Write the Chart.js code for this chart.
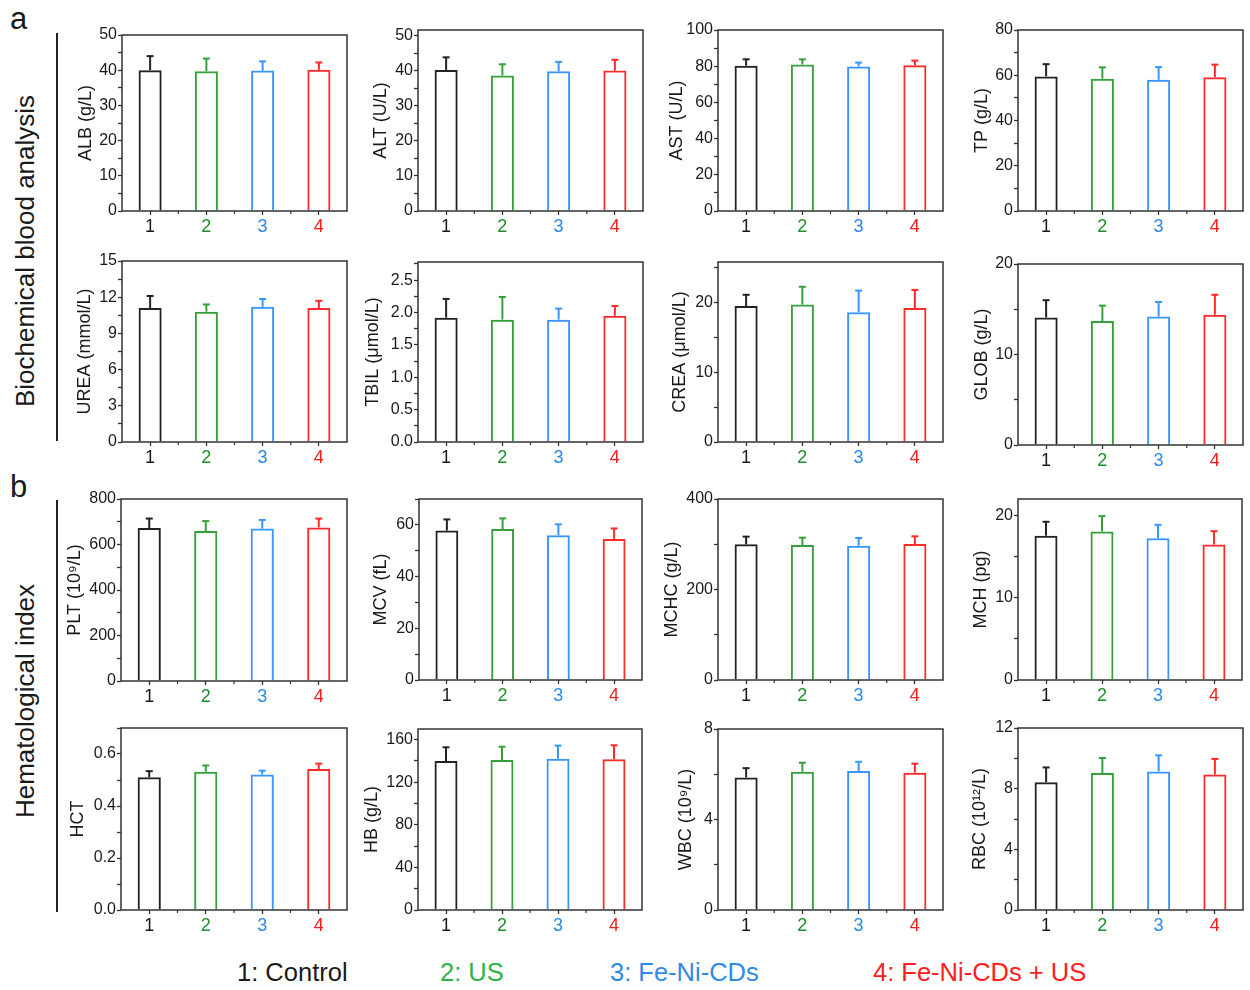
<!DOCTYPE html>
<html>
<head>
<meta charset="utf-8">
<title>Biochemical blood analysis and hematological index</title>
<script src="https://cdn.jsdelivr.net/npm/chart.js@4.4.1/dist/chart.umd.min.js"></script>
<style>
  html, body { margin: 0; padding: 0; background: #fff; }
  body { width: 1250px; height: 990px; position: relative; overflow: hidden;
         font-family: "Liberation Sans", Arial, sans-serif; color: #1a1a1a; }
  .panel { position: absolute; }
  .tag { position: absolute; font-size: 31px; line-height: 1; }
  .section { position: absolute; font-size: 26px; white-space: nowrap;
             transform: translate(-50%, -50%) rotate(-90deg); }
  .rule { position: absolute; left: 56px; width: 2px; background: #222; }
  #legend span { position: absolute; font-size: 25.5px; white-space: nowrap; transform: translateY(-50%); }
</style>
</head>
<body>
<div class="tag" style="left:10px; top:3px;">a</div>
<div class="tag" style="left:10px; top:471px;">b</div>
<div class="rule" style="top:33px; height:408px;"></div>
<div class="rule" style="top:500px; height:412px;"></div>
<div class="section" style="left:25px; top:251px;">Biochemical blood analysis</div>
<div class="section" style="left:25px; top:701px;">Hematological index</div>
<div id="legend"></div>

<script>
// Groups
const groups = ['1', '2', '3', '4'];
const groupNames = ['Control', 'US', 'Fe-Ni-CDs', 'Fe-Ni-CDs + US'];
const barColors = ['#222222', '#36a03c', '#3a96ff', '#ff2a2a'];
const labelColors = ['#1a1a1a', '#1f8f2a', '#2a88f0', '#f51c1c'];
const legendColors = ['#1a1a1a', '#2db34a', '#2f8ae8', '#ff2020'];

// Biochemical blood analysis (mean, SD)
const ALB = [40.0, 39.7, 39.9, 40.1];
const ALB_SD = [4.0, 3.6, 2.6, 2.1];
const ALT = [40.3, 38.7, 39.9, 40.1];
const ALT_SD = [3.6, 3.2, 2.7, 3.1];
const AST = [80.3, 81.0, 79.9, 80.5];
const AST_SD = [3.5, 2.8, 2.1, 2.6];
const TP = [59.5, 58.5, 58.0, 59.1];
const TP_SD = [5.4, 5.0, 5.6, 5.6];
const UREA = [11.1, 10.8, 11.2, 11.1];
const UREA_SD = [1.0, 0.6, 0.65, 0.6];
const TBIL = [1.92, 1.89, 1.89, 1.95];
const TBIL_SD = [0.29, 0.35, 0.17, 0.15];
const CREA = [19.5, 19.7, 18.6, 19.2];
const CREA_SD = [1.6, 2.55, 3.1, 2.6];
const GLOB = [14.1, 13.7, 14.2, 14.4];
const GLOB_SD = [1.9, 1.7, 1.6, 2.2];

// Hematological index (mean, SD)
const PLT = [672, 659, 670, 675];
const PLT_SD = [42, 44, 38, 39];
const MCV = [57.8, 58.4, 56.0, 54.5];
const MCV_SD = [4.3, 4.1, 4.2, 4.1];
const MCHC = [299.8, 298.3, 296.9, 300.6];
const MCHC_SD = [17.0, 16.2, 16.9, 16.9];
const MCH = [17.52, 18.05, 17.24, 16.46];
const MCH_SD = [1.71, 1.87, 1.62, 1.63];
const HCT = [0.511, 0.532, 0.521, 0.542];
const HCT_SD = [0.023, 0.024, 0.015, 0.021];
const HB = [139.9, 140.9, 142.1, 141.5];
const HB_SD = [12.9, 12.5, 12.3, 13.2];
const WBC = [5.86, 6.11, 6.14, 6.07];
const WBC_SD = [0.41, 0.40, 0.41, 0.40];
const RBC = [8.43, 9.03, 9.14, 8.94];
const RBC_SD = [0.97, 0.99, 1.06, 1.02];

// Axis definitions: title, data, axis max, major step, minor step, decimals
const panels = [
  { title: 'ALB (g/L)',      mean: ALB,  sd: ALB_SD,  max: 50,   major: 10,  minor: 5,    dec: 0 },
  { title: 'ALT (U/L)',      mean: ALT,  sd: ALT_SD,  max: 51.7, major: 10,  minor: 5,    dec: 0 },
  { title: 'AST (U/L)',      mean: AST,  sd: AST_SD,  max: 100,  major: 20,  minor: 10,   dec: 0 },
  { title: 'TP (g/L)',       mean: TP,   sd: TP_SD,   max: 80,   major: 20,  minor: 10,   dec: 0 },
  { title: 'UREA (mmol/L)',  mean: UREA, sd: UREA_SD, max: 15,   major: 3,   minor: 1.5,  dec: 0 },
  { title: 'TBIL (\u03bcmol/L)', mean: TBIL, sd: TBIL_SD, max: 2.78, major: 0.5, minor: 0.25, dec: 1 },
  { title: 'CREA (\u03bcmol/L)', mean: CREA, sd: CREA_SD, max: 25.8, major: 10, minor: 5,  dec: 0 },
  { title: 'GLOB (g/L)',     mean: GLOB, sd: GLOB_SD, max: 20,   major: 10,  minor: 5,    dec: 0 },
  { title: 'PLT (10\u2079/L)', mean: PLT, sd: PLT_SD, max: 800,  major: 200, minor: 100,  dec: 0 },
  { title: 'MCV (fL)',       mean: MCV,  sd: MCV_SD,  max: 70,   major: 20,  minor: 10,   dec: 0 },
  { title: 'MCHC (g/L)',     mean: MCHC, sd: MCHC_SD, max: 400,  major: 200, minor: 100,  dec: 0 },
  { title: 'MCH (pg)',       mean: MCH,  sd: MCH_SD,  max: 22,   major: 10,  minor: 5,    dec: 0 },
  { title: 'HCT',            mean: HCT,  sd: HCT_SD,  max: 0.7,  major: 0.2, minor: 0.1,  dec: 1 },
  { title: 'HB (g/L)',       mean: HB,   sd: HB_SD,   max: 170,  major: 40,  minor: 20,   dec: 0 },
  { title: 'WBC (10\u2079/L)', mean: WBC, sd: WBC_SD, max: 8,    major: 4,   minor: 2,    dec: 0 },
  { title: 'RBC (10\u00b9\u00b2/L)', mean: RBC, sd: RBC_SD, max: 12, major: 4, minor: 2,  dec: 0 }
];

// Plot-area placement on the page: left, top, width, height, gap from axis to title centre
const boxes = [
  { x: 122,  y: 35,  w: 225, h: 176, gap: 36.5 },
  { x: 418,  y: 30,  w: 225, h: 181, gap: 37 },
  { x: 718,  y: 30,  w: 225, h: 181, gap: 41 },
  { x: 1018, y: 30,  w: 225, h: 181, gap: 36 },
  { x: 122,  y: 261, w: 225, h: 181, gap: 37 },
  { x: 418,  y: 262, w: 225, h: 180, gap: 45 },
  { x: 718,  y: 262, w: 225, h: 180, gap: 38 },
  { x: 1018, y: 264, w: 225, h: 181, gap: 36 },
  { x: 121,  y: 499, w: 226, h: 182, gap: 46 },
  { x: 419,  y: 499, w: 223, h: 181, gap: 38 },
  { x: 718,  y: 499, w: 225, h: 181, gap: 46 },
  { x: 1018, y: 499, w: 224, h: 181, gap: 37 },
  { x: 121,  y: 728, w: 226, h: 182, gap: 43 },
  { x: 418,  y: 729, w: 224, h: 181, gap: 46 },
  { x: 718,  y: 729, w: 225, h: 181, gap: 32 },
  { x: 1018, y: 728, w: 225, h: 182, gap: 38 }
];

const FONT = '"Liberation Sans", Arial, sans-serif';
const TITLE_SIZE = 18;
const TITLE_LH = 1.2;
const AXIS_COLOR = '#333333';

// Frame, minor x ticks and one-sided error bars
const framePlugin = {
  id: 'frame',
  afterDatasetsDraw(chart) {
    const { ctx, chartArea: a, scales: { x, y } } = chart;
    const ds = chart.data.datasets[0];
    const meta = chart.getDatasetMeta(0);
    ctx.save();
    ctx.lineCap = 'butt';
    meta.data.forEach((bar, i) => {
      const cx = bar.x;
      const top = y.getPixelForValue(ds.data[i] + ds.sd[i]);
      ctx.strokeStyle = barColors[i];
      ctx.lineWidth = 2;
      ctx.beginPath();
      ctx.moveTo(cx, bar.y);
      ctx.lineTo(cx, top);
      ctx.stroke();
      ctx.beginPath();
      ctx.moveTo(cx - 3.5, top);
      ctx.lineTo(cx + 3.5, top);
      ctx.stroke();
    });
    ctx.strokeStyle = AXIS_COLOR;
    ctx.lineWidth = 1.5;
    ctx.strokeRect(a.left, a.top, a.right - a.left, a.bottom - a.top);
    ctx.lineWidth = 1.2;
    for (let i = 0; i < groups.length - 1; i++) {
      const mx = (x.getPixelForValue(i) + x.getPixelForValue(i + 1)) / 2;
      ctx.beginPath();
      ctx.moveTo(mx, a.bottom);
      ctx.lineTo(mx, a.bottom + 3);
      ctx.stroke();
    }
    ctx.restore();
  }
};

function isMajor(v, step) {
  const r = v / step;
  return Math.abs(r - Math.round(r)) < 1e-6;
}

function makePanel(p, b) {
  const padT = 14, padR = 8, padB = 38;
  const padL = Math.round(b.gap + TITLE_SIZE * TITLE_LH / 2);
  const W = padL + b.w + padR;
  const H = padT + b.h + padB;

  const holder = document.createElement('div');
  holder.className = 'panel';
  holder.style.left = (b.x - padL) + 'px';
  holder.style.top = (b.y - padT) + 'px';
  holder.style.width = W + 'px';
  holder.style.height = H + 'px';
  const cv = document.createElement('canvas');
  cv.width = W; cv.height = H;
  cv.style.width = W + 'px'; cv.style.height = H + 'px';
  holder.appendChild(cv);
  document.body.appendChild(holder);

  new Chart(cv, {
    type: 'bar',
    data: {
      labels: groups,
      datasets: [{
        data: p.mean,
        sd: p.sd,
        backgroundColor: 'rgba(255,255,255,0)',
        borderColor: barColors,
        borderWidth: 2,
        borderSkipped: 'start',
        barPercentage: 0.41,
        categoryPercentage: 1
      }]
    },
    options: {
      responsive: false,
      animation: false,
      devicePixelRatio: 1,
      events: [],
      layout: { padding: { left: 0, top: padT, right: padR, bottom: 0 } },
      plugins: { legend: { display: false }, tooltip: { enabled: false } },
      scales: {
        x: {
          type: 'category',
          offset: true,
          border: { display: false },
          grid: { display: true, drawOnChartArea: false, drawTicks: true, offset: false,
                  tickLength: 4, tickColor: AXIS_COLOR, tickWidth: 1.3 },
          ticks: { color: (c) => labelColors[c.index], padding: 1, maxRotation: 0,
                   font: { family: FONT, size: 18 } },
          afterFit: (s) => { s.height = padB; }
        },
        y: {
          type: 'linear',
          min: 0,
          max: p.max,
          border: { display: false },
          grid: { display: true, drawOnChartArea: false, drawTicks: true,
                  tickLength: 4, tickColor: AXIS_COLOR, tickWidth: 1.3 },
          ticks: {
            stepSize: p.minor,
            includeBounds: false,
            autoSkip: false,
            padding: 1,
            color: '#1a1a1a',
            font: { family: FONT, size: 16 },
            callback: (v) => isMajor(v, p.major) ? Number(v).toFixed(p.dec) : ''
          },
          title: {
            display: true,
            text: p.title,
            color: '#1a1a1a',
            padding: 0,
            font: { family: FONT, size: TITLE_SIZE, lineHeight: TITLE_LH }
          },
          afterFit: (s) => { s.width = padL; }
        }
      }
    },
    plugins: [framePlugin]
  });
}

panels.forEach((p, i) => makePanel(p, boxes[i]));

// Group legend along the bottom
const legendX = [237, 440, 610, 873];
const legend = document.getElementById('legend');
groups.forEach((g, i) => {
  const s = document.createElement('span');
  s.textContent = g + ': ' + groupNames[i];
  s.style.left = legendX[i] + 'px';
  s.style.top = '972px';
  s.style.color = legendColors[i];
  legend.appendChild(s);
});
</script>
</body>
</html>
